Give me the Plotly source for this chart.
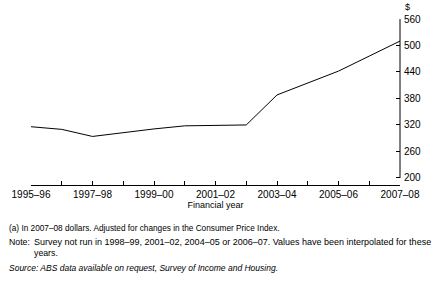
import plotly.graph_objects as go

years = ["1995–96", "1996–97", "1997–98", "1998–99", "1999–00", "2000–01", "2001–02",
         "2002–03", "2003–04", "2004–05", "2005–06", "2006–07", "2007–08"]
values = [316, 310, 294, 303, 311, 318, 319, 320, 388, 415, 442, 476, 510]
y_ticks = [200, 260, 320, 380, 440, 500, 560]

W, H = 435, 283
L, R, T, B = 24, 35, 19, 98
PW, PH = W - L - R, H - T - B

def px(x):
    return (x - L) / PW

def py(y):
    return (H - B - y) / PH

FONT = "Liberation Sans, Arial, sans-serif"

x_idx = list(range(len(years)))
ticktext = [y if i % 2 == 0 else "" for i, y in enumerate(years)]

fig = go.Figure()
fig.add_trace(go.Scatter(x=x_idx, y=values, mode="lines",
                         line=dict(color="black", width=1), hoverinfo="skip"))

fig.update_layout(
    width=W, height=H, margin=dict(l=L, r=R, t=T, b=B),
    paper_bgcolor="white", plot_bgcolor="white", showlegend=False,
    font=dict(family=FONT, size=9, color="black"),
    xaxis=dict(range=[0, len(years) - 1], tickvals=x_idx, ticktext=ticktext,
               ticks="inside", ticklen=4, tickcolor="black", tickwidth=1,
               showline=True, linecolor="black", linewidth=1, showgrid=False,
               zeroline=False, tickangle=0, tickfont=dict(size=10),
               title=dict(text="Financial year", font=dict(size=9), standoff=1)),
    yaxis=dict(range=[184, 560], side="right", tickvals=y_ticks,
               ticks="inside", ticklen=4, tickcolor="black", tickwidth=1,
               showline=False, showgrid=False, zeroline=False, ticklabelstandoff=3,
               tickfont=dict(size=10)),
)

fig.add_shape(type="line", xref="paper", yref="y", x0=1, x1=1,
              y0=min(y_ticks), y1=max(y_ticks), line=dict(color="black", width=1))

def ann(text, x, y, size=8.5, italic=False, anchor="left"):
    t = f"<i>{text}</i>" if italic else text
    fig.add_annotation(text=t, xref="paper", yref="paper", x=px(x), y=py(y),
                       xanchor=anchor, yanchor="middle", showarrow=False,
                       font=dict(family=FONT, size=size, color="black"), align="left")

ann("$", 408, 7, size=9, anchor="center")
ann("(a) In 2007–08 dollars. Adjusted for changes in the Consumer Price Index.", 0, 228, size=8.25)
ann("Note:", 0, 242, size=8.75)
ann("Survey not run in 1998–99, 2001–02, 2004–05 or 2006–07. Values have been interpolated for these", 25, 242, size=9)
ann("years.", 25, 253, size=8.75)
ann("Source: ABS data available on request, Survey of Income and Housing.", 0, 268, size=8.5, italic=True)

fig.write_html("out.html")
